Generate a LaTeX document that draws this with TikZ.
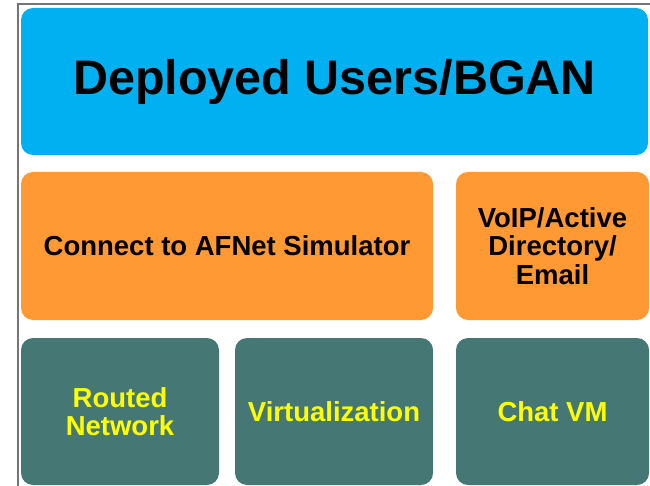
\documentclass[tikz,border=0pt]{standalone}
\usepackage{fontspec}
\setmainfont{Liberation Sans}
\definecolor{bgblue}{HTML}{00B0F0}
\definecolor{bgorange}{HTML}{FF9933}
\definecolor{bgteal}{HTML}{457875}
\definecolor{frame}{HTML}{757575}
\definecolor{txtyellow}{HTML}{FFFF00}
\tikzset{
  box/.style={rounded corners=12pt, inner sep=0pt, align=center,
    font=\bfseries\fontsize{27.5}{28.5}\selectfont},
  bluebox/.style={box, fill=bgblue, text=black},
  orangebox/.style={box, fill=bgorange, text=black},
  tealbox/.style={box, fill=bgteal, text=txtyellow},
}
\begin{document}
\begin{tikzpicture}[x=1pt,y=-1pt]
\useasboundingbox (0,0) rectangle (650,486);
\fill[white] (0,0) rectangle (650,486);
\coordinate (fb) at (18,488);
\coordinate (fc) at (18,4);
\coordinate (fr) at (652,4);
\draw[frame, line width=2.5pt] (fb) -- (fc) -- (fr);
\node[bluebox, minimum width=627pt, minimum height=147pt,
  font=\bfseries\fontsize{48.5}{50}\selectfont] (top) at (334.5,81.5) {Deployed Users/BGAN};
\node[orangebox, minimum width=412pt, minimum height=148pt] (afnet) at (227,246) {Connect to AFNet Simulator};
\node[orangebox, minimum width=193pt, minimum height=148pt] (voip) at (552.5,246) {VoIP/Active\\Directory/\\Email};
\node[tealbox, minimum width=198pt, minimum height=147pt] (routed) at (120,411.5) {Routed\\Network};
\node[tealbox, minimum width=198pt, minimum height=147pt] (virt) at (334,411.5) {Virtualization};
\node[tealbox, minimum width=193pt, minimum height=147pt] (chat) at (552.5,411.5) {Chat VM};
\end{tikzpicture}
\end{document}
